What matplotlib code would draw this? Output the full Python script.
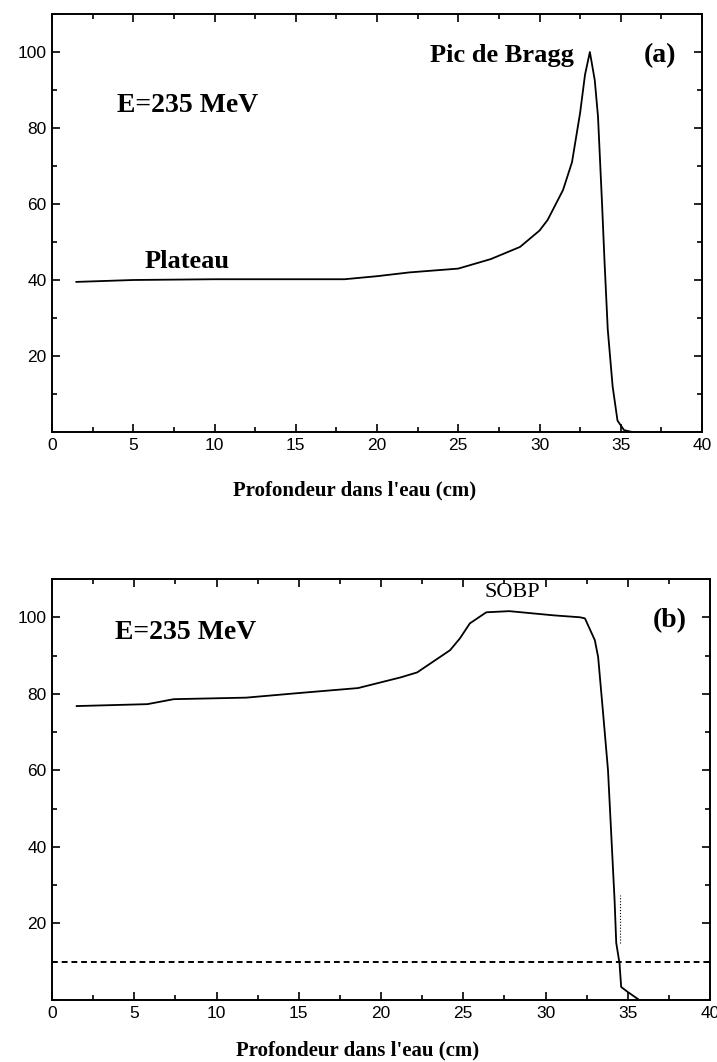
import matplotlib
matplotlib.use("Agg")
import matplotlib.pyplot as plt
from matplotlib.ticker import MultipleLocator

# Panel (a): pristine Bragg peak
depth_a = [1.5, 5, 10, 15, 18, 20, 22, 25, 27, 28.8, 30, 30.5, 31.45, 32.0, 32.5, 32.8,
           33.1, 33.4, 33.6, 33.85, 34.0, 34.2, 34.5, 34.8, 35.2, 35.7]
dose_a = [39.5, 40, 40.2, 40.2, 40.2, 41, 42, 43, 45.5, 48.7, 53, 55.8, 63.7, 71, 84, 94,
          100, 92.6, 83, 60, 45, 27, 12, 3, 0.5, 0]

# Panel (b): SOBP
depth_b = [1.5, 5.8, 7.4, 11.8, 15, 18.6, 21.2, 22.2, 24.2, 24.8, 25.4, 26.4, 27.8, 30.5,
           32.1, 32.4, 33.0, 33.2, 33.5, 33.8, 34.2, 34.3, 34.5, 34.6, 35.0, 35.7]
dose_b = [76.8, 77.3, 78.6, 79, 80.2, 81.5, 84.3, 85.6, 91.4, 94.5, 98.4, 101.3, 101.6, 100.5,
          100, 99.7, 94, 89.6, 75, 60, 26, 14.9, 9.6, 3.4, 2.1, 0]
threshold_b = 10

xticks = [0, 5, 10, 15, 20, 25, 30, 35, 40]
yticks = [20, 40, 60, 80, 100]
xlabel = "Profondeur dans l'eau (cm)"
energy_label = "E=235 MeV"

fig = plt.figure(figsize=(7.17, 10.62), dpi=100)
ax1 = fig.add_axes([52/717, 1-432/1062, 650/717, 418/1062])
ax2 = fig.add_axes([52/717, 1-1000/1062, 658/717, 421/1062])

tick_font = ['Liberation Sans', 'DejaVu Sans']
serif = ['Liberation Serif', 'DejaVu Serif']

for ax in (ax1, ax2):
    ax.set_xlim(0, 40)
    ax.set_ylim(0, 110)
    ax.set_xticks(xticks)
    ax.set_yticks(yticks)
    ax.xaxis.set_minor_locator(MultipleLocator(2.5))
    ax.yaxis.set_minor_locator(MultipleLocator(10))
    ax.tick_params(which='both', direction='in', top=True, right=True, width=1.2)
    ax.tick_params(which='major', length=6, labelsize=12.5, pad=4)
    ax.tick_params(which='minor', length=3.5)
    for lab in ax.get_xticklabels() + ax.get_yticklabels():
        lab.set_family(tick_font)
    for s in ax.spines.values():
        s.set_linewidth(1.4)

ax1.plot(depth_a, dose_a, color='black', lw=1.3)
ax1.text(4.0, 86, energy_label, fontsize=20, fontweight='bold', family=serif, va='center')
ax1.text(5.7, 45, "Plateau", fontsize=19, fontweight='bold', family=serif, va='center')
ax1.text(32.1, 99, "Pic de Bragg", fontsize=19, fontweight='bold', family=serif,
         va='center', ha='right')
ax1.text(36.4, 99, "(a)", fontsize=20, fontweight='bold', family=serif, va='center')
ax1.set_xlabel(xlabel, fontsize=15, fontweight='bold', family=serif, va='center')
ax1.xaxis.set_label_coords(0.466, -0.141)

ax2.plot(depth_b, dose_b, color='black', lw=1.3)
ax2.axhline(threshold_b, color='black', lw=1.4, ls=(0, (3, 2)))
ax2.plot([34.5, 34.5], [15, 27.4], color='black', lw=0.8, ls=':')
ax2.text(3.8, 96, energy_label, fontsize=20, fontweight='bold', family=serif, va='center')
ax2.text(26.3, 106.5, "SOBP", fontsize=16, family=serif, va='center')
ax2.text(36.5, 99, "(b)", fontsize=20, fontweight='bold', family=serif, va='center')
ax2.set_xlabel(xlabel, fontsize=15, fontweight='bold', family=serif, va='center')
ax2.xaxis.set_label_coords(0.464, -0.119)

fig.savefig("out.png", dpi=100)
